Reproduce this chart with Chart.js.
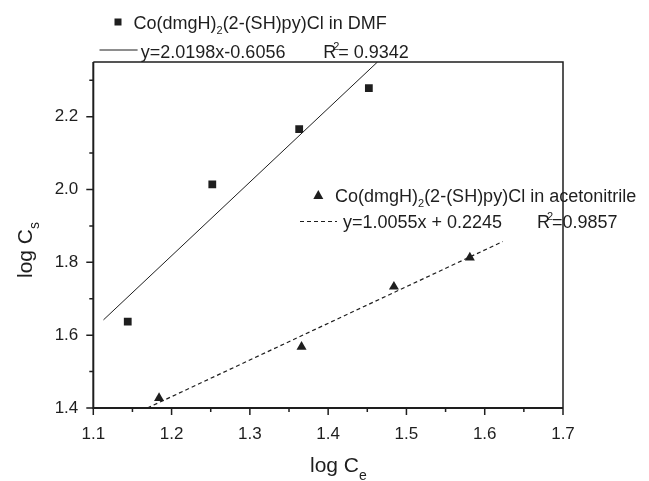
<!DOCTYPE html>
<html><head><meta charset="utf-8">
<script src="https://cdn.jsdelivr.net/npm/chart.js@4/dist/chart.umd.min.js"></script>
<style>html,body{margin:0;padding:0;background:#fff}#wrap{width:649px;height:481px;position:relative}</style>
</head><body><div id="wrap"><canvas id="c" width="649" height="481"></canvas></div>
<script>
// ---- data ----
const xTicks = [1.1, 1.2, 1.3, 1.4, 1.5, 1.6, 1.7];
const xMinorTicks = [1.15, 1.25, 1.35, 1.45, 1.55, 1.65];
const yTicks = [1.4, 1.6, 1.8, 2.0, 2.2];
const yMinorTicks = [1.5, 1.7, 1.9, 2.1, 2.3];

const dmfX = [1.144, 1.252, 1.363, 1.452];
const dmfY = [1.637, 2.014, 2.166, 2.278];
const acnX = [1.184, 1.366, 1.484, 1.581];
const acnY = [1.427, 1.568, 1.733, 1.813];

const dmfFitX = [1.113, 1.463];
const dmfFitY = [1.642, 2.350];
const acnFitX = [1.169, 1.623];
const acnFitY = [1.400, 1.857];

const dmfLabel = ['Co(dmgH)', '2', '(2-(SH)py)Cl in DMF'];
const dmfEq = 'y=2.0198x-0.6056';
const dmfR2 = ['R', '2', '= 0.9342'];
const acnLabel = ['Co(dmgH)', '2', '(2-(SH)py)Cl in acetonitrile'];
const acnEq = 'y=1.0055x + 0.2245';
const acnR2 = ['R', '2', '=0.9857'];
const xTitle = ['log C', 'e'];
const yTitle = ['log C', 's'];

const INK = '#1e1e1e';
const FONT = '"Liberation Sans", Arial, Helvetica, sans-serif';

function pts(xs, ys) { return xs.map((x, i) => ({ x: x, y: ys[i] })); }

function drawRich(ctx, x, y, parts) {
  // parts: [text, size, dy]
  let cx = x;
  for (const p of parts) {
    ctx.font = p[1] + 'px ' + FONT;
    ctx.fillText(p[0], cx, y + p[2]);
    cx += ctx.measureText(p[0]).width;
  }
  return cx;
}

const decor = {
  id: 'decor',
  afterDraw(chart) {
    const ctx = chart.ctx;
    const a = chart.chartArea;
    const xs = chart.scales.x, ys = chart.scales.y;
    ctx.save();
    ctx.strokeStyle = INK;
    ctx.fillStyle = INK;
    // frame
    ctx.lineWidth = 1.5;
    ctx.beginPath();
    ctx.moveTo(a.left, a.top); ctx.lineTo(a.right, a.top); ctx.lineTo(a.right, a.bottom);
    ctx.stroke();
    ctx.lineWidth = 2;
    ctx.beginPath();
    ctx.moveTo(a.left, a.top); ctx.lineTo(a.left, a.bottom); ctx.lineTo(a.right, a.bottom);
    ctx.stroke();
    // ticks
    ctx.lineWidth = 1.5;
    ctx.beginPath();
    xTicks.forEach(v => { const px = xs.getPixelForValue(v); ctx.moveTo(px, a.bottom); ctx.lineTo(px, a.bottom + 7); });
    xMinorTicks.forEach(v => { const px = xs.getPixelForValue(v); ctx.moveTo(px, a.bottom); ctx.lineTo(px, a.bottom + 4); });
    yTicks.forEach(v => { const py = ys.getPixelForValue(v); ctx.moveTo(a.left, py); ctx.lineTo(a.left - 7, py); });
    yMinorTicks.forEach(v => { const py = ys.getPixelForValue(v); ctx.moveTo(a.left, py); ctx.lineTo(a.left - 4, py); });
    ctx.stroke();

    ctx.textBaseline = 'alphabetic';
    ctx.textAlign = 'left';
    // legend DMF
    ctx.fillRect(118 - 3.5, 22 - 3.5, 7, 7);
    drawRich(ctx, 133.5, 28.5, [[dmfLabel[0], 18, 0], [dmfLabel[1], 11, 5], [dmfLabel[2], 18, 0]]);
    ctx.lineWidth = 1;
    ctx.beginPath(); ctx.moveTo(99.5, 50); ctx.lineTo(137.6, 50); ctx.stroke();
    drawRich(ctx, 140.8, 58.3, [[dmfEq, 18, 0]]);
    let rx = drawRich(ctx, 323.2, 58.3, [[dmfR2[0], 18, 0]]);
    ctx.font = '11px ' + FONT; ctx.fillText(dmfR2[1], rx - 3, 50);
    drawRich(ctx, rx + 2, 58.3, [[dmfR2[2], 18, 0]]);

    // legend acetonitrile
    ctx.beginPath();
    ctx.moveTo(318.3, 190); ctx.lineTo(323.3, 199); ctx.lineTo(313.3, 199); ctx.closePath(); ctx.fill();
    drawRich(ctx, 335, 201.7, [[acnLabel[0], 18, 0], [acnLabel[1], 11, 5], [acnLabel[2], 18, 0]]);
    ctx.lineWidth = 1.2;
    ctx.setLineDash([4, 3]);
    ctx.beginPath(); ctx.moveTo(300, 221.5); ctx.lineTo(337, 221.5); ctx.stroke();
    ctx.setLineDash([]);
    drawRich(ctx, 343, 228.3, [[acnEq, 18, 0]]);
    rx = drawRich(ctx, 537, 228.3, [[acnR2[0], 18, 0]]);
    ctx.font = '11px ' + FONT; ctx.fillText(acnR2[1], rx - 3, 220);
    drawRich(ctx, rx + 2, 228.3, [[acnR2[2], 18, 0]]);

    // axis titles
    drawRich(ctx, 310, 471.7, [[xTitle[0], 21, 0], [xTitle[1], 14, 8]]);
    ctx.save();
    ctx.translate(31.7, 278);
    ctx.rotate(-Math.PI / 2);
    drawRich(ctx, 0, 0, [[yTitle[0], 21, 0], [yTitle[1], 14, 7]]);
    ctx.restore();
    ctx.restore();
  }
};

new Chart(document.getElementById('c'), {
  type: 'scatter',
  data: {
    datasets: [
      { label: 'DMF fit', type: 'line', data: pts(dmfFitX, dmfFitY), borderColor: INK, borderWidth: 1, pointRadius: 0, fill: false, tension: 0 },
      { label: 'acetonitrile fit', type: 'line', data: pts(acnFitX, acnFitY), borderColor: INK, borderWidth: 1.2, borderDash: [4, 3], pointRadius: 0, fill: false, tension: 0 },
      { label: 'DMF', data: pts(dmfX, dmfY), pointStyle: 'rect', pointRadius: 5.5, backgroundColor: INK, borderWidth: 0 },
      { label: 'acetonitrile', data: pts(acnX, acnY), pointStyle: 'triangle', pointRadius: 5.8, backgroundColor: INK, borderWidth: 0 }
    ]
  },
  options: {
    responsive: false,
    animation: false,
    devicePixelRatio: 1,
    layout: { padding: { top: 62, right: 86, left: 0, bottom: 0 } },
    plugins: { legend: { display: false }, tooltip: { enabled: false } },
    scales: {
      x: {
        type: 'linear', min: 1.1, max: 1.7,
        afterBuildTicks: s => { s.ticks = xTicks.map(v => ({ value: v })); },
        afterFit: s => { s.height = 73; },
        grid: { display: false, drawTicks: false },
        border: { display: false },
        ticks: { color: INK, font: { family: FONT, size: 17 }, padding: 16, callback: v => v.toFixed(1), maxRotation: 0 }
      },
      y: {
        type: 'linear', min: 1.4, max: 2.35,
        afterBuildTicks: s => { s.ticks = yTicks.map(v => ({ value: v })); },
        afterFit: s => { s.width = 93.3; },
        grid: { display: false, drawTicks: false },
        border: { display: false },
        ticks: { color: INK, font: { family: FONT, size: 17 }, padding: 15, callback: v => v.toFixed(1) }
      }
    }
  },
  plugins: [decor]
});
</script>
</body></html>
